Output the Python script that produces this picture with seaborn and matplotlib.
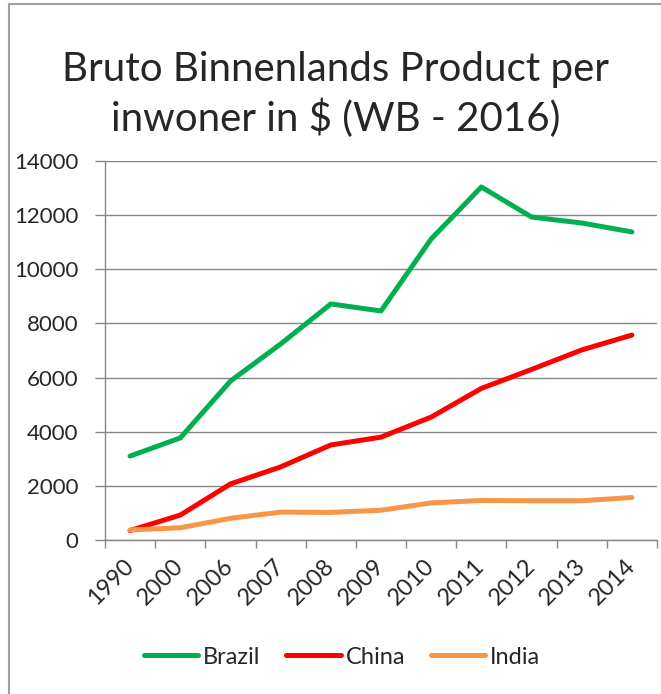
import matplotlib
matplotlib.use('Agg')
import matplotlib.pyplot as plt
from matplotlib.patches import Rectangle
import pandas as pd
import seaborn as sns

years = ['1990', '2000', '2006', '2007', '2008', '2009', '2010', '2011', '2012', '2013', '2014']
brazil = [3100, 3770, 5870, 7240, 8720, 8460, 11120, 13040, 11930, 11710, 11380]
china = [350, 920, 2070, 2700, 3510, 3800, 4540, 5600, 6300, 7020, 7570]
india = [370, 450, 800, 1030, 1020, 1100, 1370, 1460, 1450, 1450, 1570]
countries = ['Brazil', 'China', 'India']
colors = ['#00B050', '#FF0000', '#F79646']

rows = []
for name, vals in zip(countries, [brazil, china, india]):
    for i, (y, v) in enumerate(zip(years, vals)):
        rows.append({'pos': i, 'year': y, 'land': name, 'bbp': v})
data = pd.DataFrame(rows)

sns.set_style('white')
plt.rcParams['font.family'] = ['Lato', 'DejaVu Sans']

fig = plt.figure(figsize=(6.61, 6.94), dpi=100)
ax = fig.add_axes([105 / 661, 1 - 540 / 694, 552 / 661, 379 / 694])

sns.lineplot(data=data, x='pos', y='bbp', hue='land', palette=colors,
             linewidth=3.6, ax=ax, legend=False)

grid = '#868686'
ax.set_ylim(0, 14000)
ax.set_xlim(-0.5, len(years) - 0.5)
ax.set_yticks(range(0, 14001, 2000))
ax.set_yticklabels([str(v) for v in range(0, 14001, 2000)], fontsize=16)
ax.yaxis.grid(True, color=grid, linewidth=1)
ax.set_axisbelow(True)
ax.set_xticks(range(len(years)))
ax.set_xticklabels(years, rotation=45, ha='right', va='center',
                   rotation_mode='anchor', fontsize=17)
ax.set_xticks([i - 0.5 for i in range(len(years) + 1)], minor=True)
ax.tick_params(axis='x', which='major', length=0, pad=16)
ax.tick_params(axis='x', which='minor', length=6, color=grid, width=1, direction='out')
ax.tick_params(axis='y', length=7, color=grid, width=1, direction='out', pad=12)
ax.xaxis.set_ticks_position('bottom')
ax.yaxis.set_ticks_position('left')
for side in ['top', 'right']:
    ax.spines[side].set_visible(False)
for side in ['left', 'bottom']:
    ax.spines[side].set_color(grid)
    ax.spines[side].set_linewidth(1)
ax.set_xlabel('')
ax.set_ylabel('')

fig.text(336 / 661, 1 - 81 / 694, 'Bruto Binnenlands Product per',
         ha='center', va='baseline', fontsize=29)
fig.text(336 / 661, 1 - 131 / 694, 'inwoner in $ (WB - 2016)',
         ha='center', va='baseline', fontsize=29)

handles = [plt.Line2D([], [], color=c, linewidth=3.6, solid_capstyle='round') for c in colors]
fig.legend(handles, countries, loc='center', bbox_to_anchor=(342 / 661, 1 - 657 / 694),
           ncol=3, frameon=False, fontsize=17, handlelength=2.3, handletextpad=0.2,
           columnspacing=1.1)

fig.patches.append(Rectangle((9 / 661, -0.1), 2, 1.1 - 4 / 694, transform=fig.transFigure,
                             fill=False, edgecolor='#A0A0A0', linewidth=1.5))

fig.savefig('out.png', dpi=100)
